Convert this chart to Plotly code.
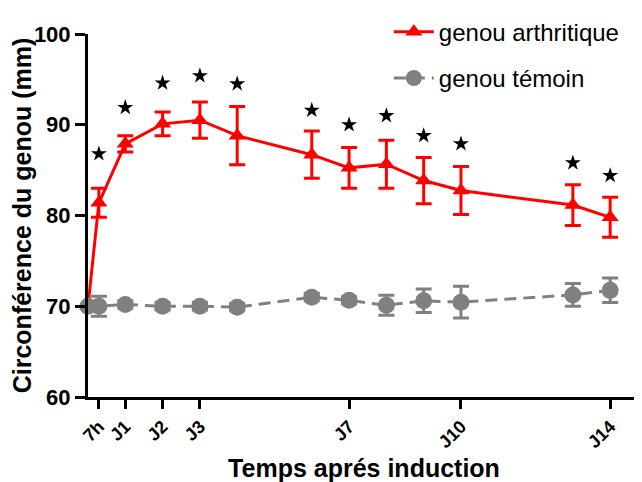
import plotly.graph_objects as go

# Data
days = [0, 7/24, 1, 2, 3, 4, 6, 7, 8, 9, 10, 13, 14]
arthr_mean = [70.0, 81.4, 87.9, 90.1, 90.5, 88.8, 86.7, 85.25, 85.65, 83.85, 82.75, 81.15, 79.8]
arthr_err = [0.0, 1.6, 0.9, 1.3, 2.0, 3.2, 2.6, 2.25, 2.65, 2.55, 2.65, 2.25, 2.2]
temoin_mean = [70.0, 70.0, 70.2, 70.0, 70.0, 69.9, 71.0, 70.65, 70.1, 70.6, 70.45, 71.25, 71.75]
temoin_err = [0.0, 1.1, 0.4, 0.4, 0.4, 0.4, 0.4, 0.4, 1.1, 1.3, 1.75, 1.25, 1.35]
star_days = [7/24, 1, 2, 3, 4, 6, 7, 8, 9, 10, 13, 14]
star_y = [86.8, 91.9, 94.6, 95.4, 94.5, 91.6, 90.0, 91.0, 88.8, 87.9, 85.8, 84.4]
tick_vals = [7/24, 1, 2, 3, 7, 10, 14]
tick_text = ["7h", "J1", "J2", "J3", "J7", "J10", "J14"]

RED = "#ff0000"
GRAY = "#808080"
FONT = "Liberation Sans, Arial, sans-serif"

fig = go.Figure()
fig.add_trace(go.Scatter(
    x=days, y=arthr_mean, name="genou arthritique", mode="lines+markers",
    line=dict(color=RED, width=3),
    marker=dict(symbol="triangle-up", size=15, color=RED),
    error_y=dict(type="data", array=arthr_err, color=RED, thickness=3, width=8),
    cliponaxis=False, legendgroup="a",
))
fig.add_trace(go.Scatter(
    x=days, y=temoin_mean, name="genou témoin", mode="lines+markers",
    line=dict(color=GRAY, width=3, dash="12px,7px"),
    marker=dict(symbol="circle", size=17, color=GRAY),
    error_y=dict(type="data", array=temoin_err, color=GRAY, thickness=3, width=8),
    cliponaxis=False, legendgroup="b",
))
fig.add_trace(go.Scatter(
    x=star_days, y=star_y, mode="markers", showlegend=False,
    marker=dict(symbol="star", size=12, color="black"),
    cliponaxis=False,
))

fig.update_layout(
    width=634, height=474,
    margin=dict(l=80, r=2, t=17, b=85),
    plot_bgcolor="white", paper_bgcolor="white",
    font=dict(family=FONT, color="black"),
    showlegend=True,
    legend=dict(x=0.545, y=1.067, xanchor="left", yanchor="top",
                font=dict(size=24, family=FONT, color="black"),
                bgcolor="rgba(0,0,0,0)", tracegroupgap=12,
                traceorder="grouped", itemwidth=40),
)
fig.update_xaxes(
    range=[0, 14.8], showgrid=False, zeroline=False, automargin=False,
    showline=True, linecolor="black", linewidth=3,
    tickmode="array", tickvals=tick_vals, ticktext=tick_text,
    ticks="outside", ticklen=9, tickwidth=3, tickcolor="black",
    tickangle=-45, tickfont=dict(size=18, family=FONT, color="black", weight="bold"),
    title=dict(text="<b>Temps aprés induction</b>", font=dict(size=25, family=FONT), standoff=16),
)
fig.update_yaxes(
    range=[60, 100], showgrid=False, zeroline=False, automargin=False,
    showline=True, linecolor="black", linewidth=3,
    tickvals=[60, 70, 80, 90, 100],
    ticks="outside", ticklen=10, tickwidth=3, tickcolor="black",
    tickfont=dict(size=22, family=FONT, color="black", weight="bold"),
    title=dict(text="<b>Circonférence du genou (mm)</b>", font=dict(size=25, family=FONT), standoff=4),
)

fig.write_html("out.html")
